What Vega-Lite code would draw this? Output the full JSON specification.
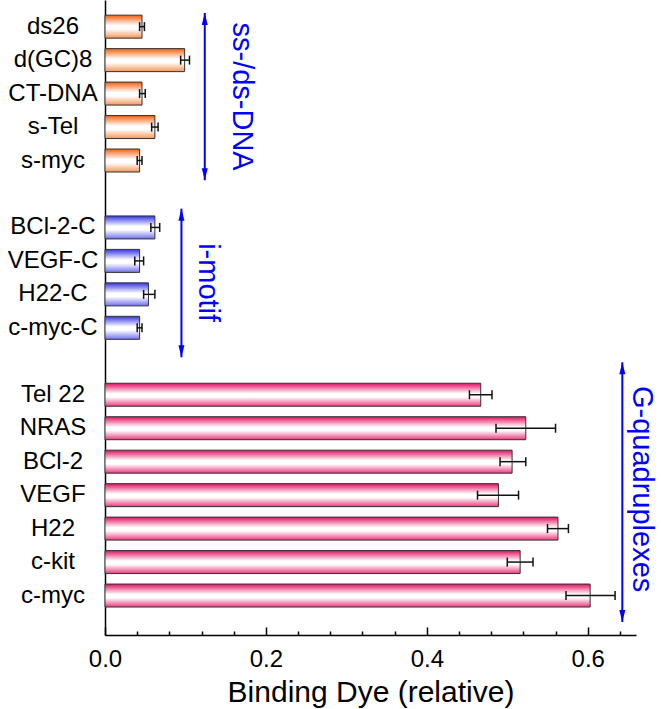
{
  "$schema": "https://vega.github.io/schema/vega-lite/v6.json",
  "width": 531,
  "height": 635,
  "autosize": {"type": "none"},
  "padding": {"left": 105, "top": 0, "right": 25, "bottom": 74},
  "background": "white",
  "config": {"view": {"stroke": null}, "font": "Liberation Sans"},
  "datasets": {
    "bars": [
      {"name": "ds26", "group": "ss-/ds-DNA", "pos": 1, "value": 0.046, "low": 0.043, "high": 0.049},
      {"name": "d(GC)8", "group": "ss-/ds-DNA", "pos": 2, "value": 0.099, "low": 0.094, "high": 0.105},
      {"name": "CT-DNA", "group": "ss-/ds-DNA", "pos": 3, "value": 0.046, "low": 0.043, "high": 0.05},
      {"name": "s-Tel", "group": "ss-/ds-DNA", "pos": 4, "value": 0.062, "low": 0.058, "high": 0.066},
      {"name": "s-myc", "group": "ss-/ds-DNA", "pos": 5, "value": 0.043, "low": 0.04, "high": 0.046},
      {"name": "BCl-2-C", "group": "i-motif", "pos": 7, "value": 0.062, "low": 0.057, "high": 0.068},
      {"name": "VEGF-C", "group": "i-motif", "pos": 8, "value": 0.043, "low": 0.037, "high": 0.048},
      {"name": "H22-C", "group": "i-motif", "pos": 9, "value": 0.054, "low": 0.048, "high": 0.062},
      {"name": "c-myc-C", "group": "i-motif", "pos": 10, "value": 0.043, "low": 0.04, "high": 0.046},
      {"name": "Tel 22", "group": "G-quadruplexes", "pos": 12, "value": 0.467, "low": 0.453, "high": 0.481},
      {"name": "NRAS", "group": "G-quadruplexes", "pos": 13, "value": 0.523, "low": 0.486, "high": 0.56},
      {"name": "BCl-2", "group": "G-quadruplexes", "pos": 14, "value": 0.506, "low": 0.491, "high": 0.523},
      {"name": "VEGF", "group": "G-quadruplexes", "pos": 15, "value": 0.489, "low": 0.463, "high": 0.514},
      {"name": "H22", "group": "G-quadruplexes", "pos": 16, "value": 0.563, "low": 0.55, "high": 0.576},
      {"name": "c-kit", "group": "G-quadruplexes", "pos": 17, "value": 0.516, "low": 0.5, "high": 0.532},
      {"name": "c-myc", "group": "G-quadruplexes", "pos": 18, "value": 0.603, "low": 0.573, "high": 0.634}
    ],
    "groups": [
      {"group": "ss-/ds-DNA", "arrow_x": 0.124, "y_top": 0.59, "y_bottom": 5.59, "label_x": 0.170, "label_y": 3.09},
      {"group": "i-motif", "arrow_x": 0.095, "y_top": 6.44, "y_bottom": 10.88, "label_x": 0.128, "label_y": 8.65},
      {"group": "G-quadruplexes", "arrow_x": 0.643, "y_top": 11.03, "y_bottom": 18.79, "label_x": 0.668, "label_y": 14.82}
    ]
  },
  "resolve": {"axis": {"x": "independent"}},
  "layer": [
    {
      "data": {"name": "bars"},
      "transform": [{"filter": "datum.group === 'ss-/ds-DNA'"}],
      "mark": {
        "type": "bar", "orient": "horizontal", "size": 23, "stroke": "#333333", "strokeWidth": 1,
        "fill": {"gradient": "linear", "x1": 0, "y1": 0, "x2": 0, "y2": 1,
          "stops": [{"offset": 0, "color": "#f0600f"}, {"offset": 0.45, "color": "#ffffff"}, {"offset": 0.6, "color": "#ffffff"}, {"offset": 1, "color": "#f5965a"}]}
      },
      "encoding": {
        "x": {"field": "value", "type": "quantitative",
          "scale": {"domain": [0, 0.66], "nice": false, "zero": true},
          "axis": {"orient": "bottom", "values": [0, 0.2, 0.4, 0.6], "format": ".1f", "grid": false,
            "tickSize": -8, "tickColor": "black", "tickWidth": 1.5,
            "domainColor": "black", "domainWidth": 1.5,
            "labelFontSize": 24, "labelColor": "black", "labelPadding": 20, "labelFont": "Liberation Sans", "labelFlush": false, "labelOverlap": false,
            "title": "Binding Dye (relative)", "titleFontSize": 30, "titleFontWeight": "normal",
            "titleColor": "black", "titleFont": "Liberation Sans", "titlePadding": 6}},
        "y": {"field": "pos", "type": "quantitative",
          "scale": {"domain": [0.353, 19.03], "reverse": true, "nice": false, "zero": false},
          "axis": {"labels": false, "ticks": false, "grid": false, "title": null, "domainColor": "black", "domainWidth": 1.5}}
      }
    },
    {
      "data": {"name": "bars"},
      "transform": [{"filter": "datum.group === 'i-motif'"}],
      "mark": {
        "type": "bar", "orient": "horizontal", "size": 23, "stroke": "#333333", "strokeWidth": 1,
        "fill": {"gradient": "linear", "x1": 0, "y1": 0, "x2": 0, "y2": 1,
          "stops": [{"offset": 0, "color": "#3434e0"}, {"offset": 0.45, "color": "#ffffff"}, {"offset": 0.6, "color": "#ffffff"}, {"offset": 1, "color": "#6f6fee"}]}
      },
      "encoding": {
        "x": {"field": "value", "type": "quantitative", "axis": null},
        "y": {"field": "pos", "type": "quantitative"}
      }
    },
    {
      "data": {"name": "bars"},
      "transform": [{"filter": "datum.group === 'G-quadruplexes'"}],
      "mark": {
        "type": "bar", "orient": "horizontal", "size": 23, "stroke": "#333333", "strokeWidth": 1,
        "fill": {"gradient": "linear", "x1": 0, "y1": 0, "x2": 0, "y2": 1,
          "stops": [{"offset": 0, "color": "#e0105e"}, {"offset": 0.45, "color": "#ffffff"}, {"offset": 0.6, "color": "#ffffff"}, {"offset": 1, "color": "#e83a7c"}]}
      },
      "encoding": {
        "x": {"field": "value", "type": "quantitative", "axis": null},
        "y": {"field": "pos", "type": "quantitative"}
      }
    },
    {
      "data": {"name": "bars"},
      "mark": {"type": "rule", "color": "#111111", "strokeWidth": 1.5},
      "encoding": {
        "x": {"field": "low", "type": "quantitative", "axis": null},
        "x2": {"field": "high"},
        "y": {"field": "pos", "type": "quantitative"}
      }
    },
    {
      "data": {"name": "bars"},
      "transform": [{"fold": ["low", "high"], "as": ["end", "xval"]}],
      "mark": {"type": "tick", "orient": "vertical", "size": 9, "thickness": 1.5, "color": "#111111", "opacity": 1},
      "encoding": {
        "x": {"field": "xval", "type": "quantitative", "axis": null},
        "y": {"field": "pos", "type": "quantitative"}
      }
    },
    {
      "data": {"name": "bars"},
      "mark": {"type": "text", "align": "center", "baseline": "middle", "dx": -52, "fontSize": 24, "font": "Liberation Sans", "color": "black"},
      "encoding": {
        "x": {"datum": 0, "type": "quantitative", "axis": null},
        "y": {"field": "pos", "type": "quantitative"},
        "text": {"field": "name"}
      }
    },
    {
      "data": {"name": "groups"},
      "mark": {"type": "rule", "color": "#0000ff", "strokeWidth": 2},
      "encoding": {
        "x": {"field": "arrow_x", "type": "quantitative",
          "axis": {"orient": "bottom", "values": [0.04, 0.08, 0.12, 0.16, 0.24, 0.28, 0.32, 0.36, 0.44, 0.48, 0.52, 0.56, 0.64],
            "labels": false, "domain": false, "grid": false, "title": null,
            "tickSize": -4, "tickColor": "black", "tickWidth": 1.5}},
        "y": {"field": "y_top", "type": "quantitative"},
        "y2": {"field": "y_bottom"}
      }
    },
    {
      "data": {"name": "groups"},
      "mark": {"type": "point", "shape": "M0,0L0.5,2L-0.5,2Z", "size": 144, "filled": true, "color": "#0000ff", "opacity": 1},
      "encoding": {
        "x": {"field": "arrow_x", "type": "quantitative", "axis": null},
        "y": {"field": "y_top", "type": "quantitative"}
      }
    },
    {
      "data": {"name": "groups"},
      "mark": {"type": "point", "shape": "M0,0L0.5,-2L-0.5,-2Z", "size": 144, "filled": true, "color": "#0000ff", "opacity": 1},
      "encoding": {
        "x": {"field": "arrow_x", "type": "quantitative", "axis": null},
        "y": {"field": "y_bottom", "type": "quantitative"}
      }
    },
    {
      "data": {"name": "groups"},
      "mark": {"type": "text", "angle": 90, "align": "center", "baseline": "middle", "fontSize": 29, "font": "Liberation Sans", "color": "#0000ff"},
      "encoding": {
        "x": {"field": "label_x", "type": "quantitative", "axis": null},
        "y": {"field": "label_y", "type": "quantitative"},
        "text": {"field": "group"}
      }
    }
  ]
}
